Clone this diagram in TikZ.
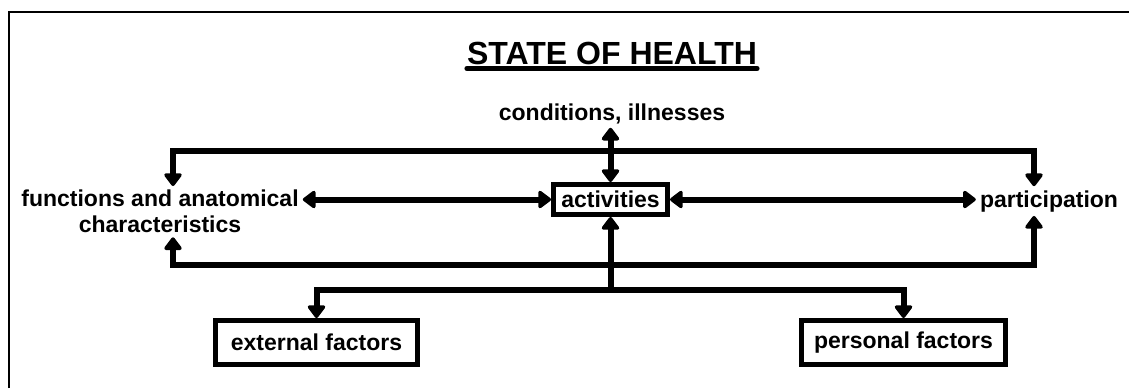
\documentclass[tikz,border=0pt]{standalone}
\usepackage{fontspec}
\setmainfont{Liberation Sans}
\usetikzlibrary{arrows.meta}
\begin{document}
\begin{tikzpicture}[x=1pt,y=1pt,
  lbl/.style={font=\fontsize{23}{26}\selectfont\bfseries, inner sep=4pt},
  boxed/.style={lbl, draw, line width=5pt, inner sep=0pt},
  conn/.style={line width=6pt},
  tipend/.style={conn, -{Triangle[length=14pt,width=20pt,round]}},
  tipboth/.style={conn, {Triangle[length=14pt,width=20pt,round]}-{Triangle[length=14pt,width=20pt,round]}},
  frame/.style={line width=2.5pt},
  ul/.style={line width=5pt, line cap=round}]
\useasboundingbox (0,0) rectangle (1129,-388);
% frame (top and left edges)
\draw[frame] (9,-388) -- (9,-12) -- (1129,-12);
% title
\node[font=\fontsize{32}{36}\selectfont\bfseries, inner sep=0pt, anchor=base] (title) at (612,-64) {STATE OF HEALTH};
\draw[ul] ([yshift=-4pt]title.south west) -- ([yshift=-4pt]title.south east);
% nodes
\node[lbl, anchor=base] (cond) at (612,-120) {conditions, illnesses};
\node[boxed, minimum width=114pt, minimum height=30pt] (act) at (610.5,-199.5) {activities};
\node[lbl, anchor=north, align=center] (func) at (160,-186) {functions and anatomical\\characteristics};
\node[lbl, anchor=base] (part) at (1049,-207) {participation};
\node[boxed, minimum width=202pt, minimum height=44pt] (ext) at (316.5,-342.5) {external factors};
\node[boxed, minimum width=204pt, minimum height=44pt] (pers) at (903.5,-342.5) {personal factors};
% bus coordinates
\coordinate (tl) at (173,-151);
\coordinate (tr) at (1034,-151);
\coordinate (bl) at (173,-265);
\coordinate (br) at (1034,-265);
\coordinate (lb) at (610.5,-290);
% top bus
\draw[tipend] (act.north |- tl) -| (func.north -| tl);
\draw[tipend] (act.north |- tr) -| (part.north -| tr);
% vertical through activities
\draw[tipboth] (act.north |- cond.south) -- (act.north);
% middle row
\draw[tipboth] (act.west -| func.east) -- (act.west);
\draw[tipboth] (act.east) -- (act.east -| part.west);
% bottom bus
\draw[tipend] (act.south |- bl) -| (func.south -| bl);
\draw[tipend] (act.south |- br) -| (part.south -| br);
\draw[tipend] (lb) -- (act.south);
% lower bus
\draw[tipend] (lb) -| (ext.north);
\draw[tipend] (lb) -| (pers.north);
\end{tikzpicture}
\end{document}
